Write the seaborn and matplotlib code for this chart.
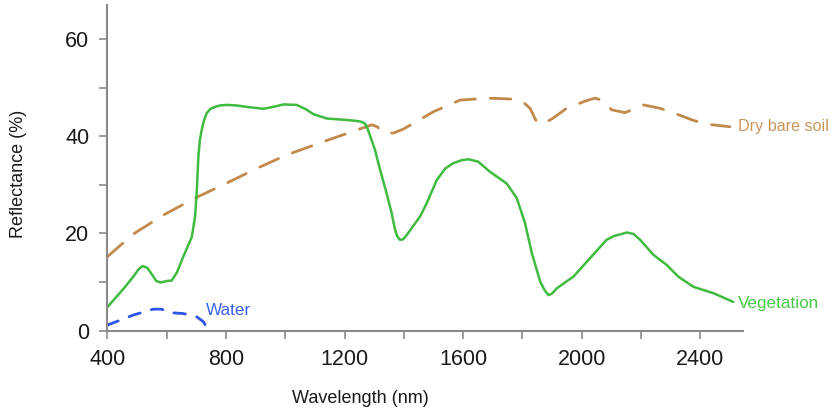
import matplotlib
matplotlib.use("Agg")
import matplotlib.pyplot as plt
import seaborn as sns
import pandas as pd

# Spectral reflectance curves (wavelength in nm, reflectance in %)
veg_wl = [400, 430, 460, 490, 505, 519, 535, 550, 565, 580, 600, 617, 635,
          656, 685, 696, 702, 707, 712, 718, 726, 735, 748, 763, 780, 803,
          835, 870, 926, 960, 994, 1039, 1070, 1095, 1140, 1207, 1240, 1258,
          1270, 1277, 1290, 1303, 1320, 1342, 1359, 1370, 1378, 1387, 1398,
          1410, 1430, 1455, 1477, 1511, 1540, 1567, 1595, 1618, 1651, 1691,
          1747, 1781, 1809, 1832, 1860, 1875, 1888, 1900, 1916, 1972, 2028,
          2084, 2110, 2129, 2152, 2175, 2197, 2242, 2287, 2326, 2377, 2444,
          2511]
veg_refl = [4.8, 6.9, 9.0, 11.3, 12.6, 13.3, 12.9, 11.6, 10.2, 9.9, 10.2,
            10.3, 12.0, 15.2, 19.3, 23.5, 29.0, 35.8, 39.2, 41.3, 43.3, 44.8,
            45.7, 46.1, 46.4, 46.5, 46.4, 46.1, 45.7, 46.1, 46.6, 46.5, 45.6,
            44.6, 43.7, 43.4, 43.2, 43.0, 42.6, 41.7, 39.5, 37.2, 33.1, 28.3,
            24.2, 20.9, 19.4, 18.7, 18.8, 19.7, 21.4, 23.5, 26.2, 31.0, 33.4,
            34.5, 35.1, 35.3, 34.8, 32.7, 30.3, 27.3, 22.1, 15.9, 10.1, 8.3,
            7.3, 7.6, 8.7, 11.1, 14.9, 18.7, 19.5, 19.8, 20.2, 19.9, 18.7,
            15.6, 13.5, 11.1, 9.0, 7.7, 5.9]

soil_wl = [400, 488, 589, 696, 803, 904, 1005, 1151, 1292, 1310, 1331, 1365,
           1398, 1500, 1590, 1680, 1770, 1800, 1826, 1848, 1871, 1904, 1949,
           2017, 2045, 2073, 2101, 2146, 2208, 2264, 2321, 2377, 2427, 2500]
soil_refl = [15.2, 19.9, 23.8, 27.3, 30.4, 33.4, 36.2, 39.4, 42.4, 42.0, 40.8,
             40.7, 41.5, 45.1, 47.5, 47.9, 47.7, 47.2, 45.8, 43.0, 42.6, 43.8,
             45.8, 47.4, 47.9, 47.4, 45.5, 44.9, 46.5, 45.8, 44.6, 43.3, 42.5,
             42.0]

water_wl = [400, 488, 555, 583, 606, 656, 702, 724, 737]
water_refl = [1.1, 3.2, 4.4, 4.4, 3.7, 3.5, 2.8, 1.8, 0.45]

x_ticks = [400, 800, 1200, 1600, 2000, 2400]
y_ticks = [0, 20, 40, 60]

veg = pd.DataFrame({"wl": veg_wl, "r": veg_refl})
soil = pd.DataFrame({"wl": soil_wl, "r": soil_refl})
water = pd.DataFrame({"wl": water_wl, "r": water_refl})

sns.set_style("ticks")
plt.rcParams["font.family"] = ["Liberation Sans", "DejaVu Sans"]

fig = plt.figure(figsize=(8.34, 4.12), dpi=100)
ax = fig.add_axes([0.1287, 0.1978, 0.7618, 0.7901])

green = "#3fbb3f"
brown = "#c28a4a"
blue = "#2b55e6"

sns.lineplot(data=soil, x="wl", y="r", ax=ax, color=brown, linewidth=2.0,
             linestyle=(0, (7.4, 5.4)), dash_capstyle="round",
             solid_joinstyle="round")
sns.lineplot(data=veg, x="wl", y="r", ax=ax, color=green, linewidth=1.8,
             solid_joinstyle="round", solid_capstyle="round")
sns.lineplot(data=water, x="wl", y="r", ax=ax, color=blue, linewidth=2.0,
             linestyle=(0, (4.2, 4.2)), dash_capstyle="round")

ax.text(2528, 42.0, "Dry bare soil", color="#c8955a", fontsize=11.6,
        ha="left", va="center")
ax.text(2528, 5.6, "Vegetation", color="#45cc45", fontsize=12.3,
        ha="left", va="center")
ax.text(733, 4.2, "Water", color="#3a62f0", fontsize=12.3,
        ha="left", va="center")

ax.set_xlim(400, 2543)
ax.set_ylim(0, 67.1)
ax.set_xticks(x_ticks)
ax.set_yticks(y_ticks)
ax.set_xticks([600, 1000, 1400, 1800, 2200], minor=True)
ax.set_yticks([10, 30, 50], minor=True)
ax.tick_params(which="both", direction="out", length=6, width=1.2,
               color="#8a8a8a", labelsize=15.5, labelcolor="#1a1a1a")
ax.tick_params(axis="y", pad=7)
ax.tick_params(axis="x", pad=7)

for side in ("top", "right"):
    ax.spines[side].set_visible(False)
for side in ("left", "bottom"):
    ax.spines[side].set_color("#8a8a8a")
    ax.spines[side].set_linewidth(1.5)

ax.set_xlabel("Wavelength (nm)", fontsize=13, color="#1a1a1a")
ax.set_ylabel("Reflectance (%)", fontsize=13, color="#1a1a1a")
ax.xaxis.set_label_coords(0.3987, -0.2104)
ax.xaxis.label.set_va("center")
ax.yaxis.set_label_coords(-0.1405, 0.48)
ax.yaxis.label.set_va("center")

fig.savefig("out.png", dpi=100)
